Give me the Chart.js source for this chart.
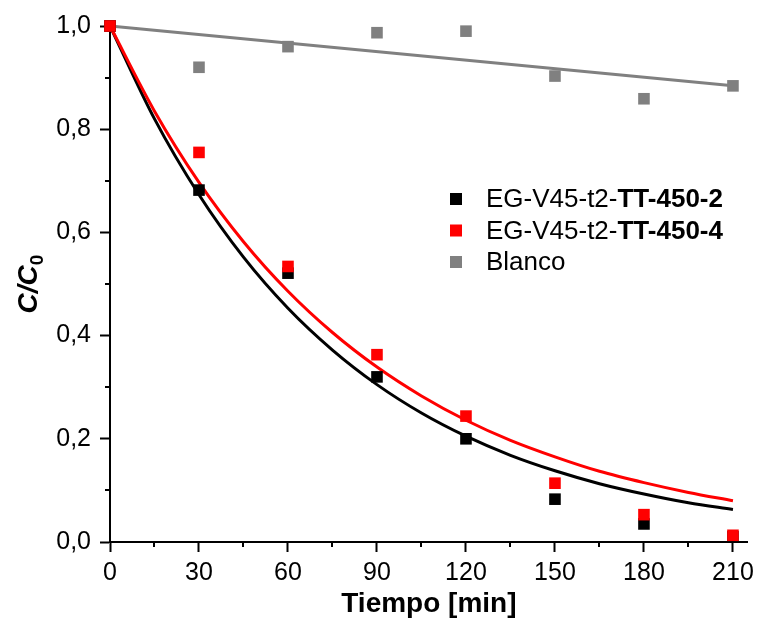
<!DOCTYPE html>
<html>
<head>
<meta charset="utf-8">
<script src="https://cdn.jsdelivr.net/npm/chart.js@4.4.1/dist/chart.umd.min.js"></script>
<style>
  html, body { margin: 0; padding: 0; background: #fff; }
  #wrap { width: 760px; height: 621px; }
</style>
</head>
<body>
<div id="wrap"><canvas id="myChart"></canvas></div>
<script>
// measured points
const tiempo = [0, 30, 60, 90, 120, 150, 180, 210];
const tt4502 = [1.0, 0.682, 0.521, 0.320, 0.200, 0.083, 0.035, 0.010];
const tt4504 = [1.0, 0.755, 0.534, 0.363, 0.244, 0.114, 0.053, 0.013];
const blanco = [1.0, 0.920, 0.960, 0.987, 0.990, 0.903, 0.859, 0.884];

// fit curves
const tiempoFit = [0, 15, 30, 45, 60, 75, 90, 105, 120, 135, 150, 165, 180, 195, 210];
const fit4502 = [1.0, 0.820, 0.673, 0.552, 0.453, 0.372, 0.305, 0.250, 0.205, 0.168, 0.138, 0.113, 0.093, 0.076, 0.063];
const fit4504 = [1.0, 0.835, 0.697, 0.582, 0.486, 0.406, 0.339, 0.283, 0.236, 0.197, 0.165, 0.137, 0.115, 0.096, 0.080];
const tiempoBlancoFit = [0, 210];
const fitBlanco = [1.0, 0.884];

const xTicks = [0, 30, 60, 90, 120, 150, 180, 210];
const yTicks = [0, 0.2, 0.4, 0.6, 0.8, 1.0];

const legendItems = [
    { normal: "EG-V45-t2-", bold: "TT-450-2", color: "#000000" },
    { normal: "EG-V45-t2-", bold: "TT-450-4", color: "#ff0000" },
    { normal: "Blanco", bold: "", color: "#808080" }
];

const FONT = 'Arial, "Liberation Sans", sans-serif';

const toXY = (xs, ys) => xs.map((x, i) => ({ x: x, y: ys[i] }));

const pointSet = (data, color, order) => ({
    data: toXY(tiempo, data),
    pointStyle: 'rect',
    pointRadius: 8.2,
    pointHoverRadius: 8.2,
    backgroundColor: color,
    borderColor: color,
    borderWidth: 0,
    showLine: false,
    clip: false,
    order: order
});

const fitSet = (xs, data, color, order) => ({
    data: toXY(xs, data),
    showLine: true,
    pointRadius: 0,
    borderColor: color,
    borderWidth: 3,
    cubicInterpolationMode: 'monotone',
    fill: false,
    clip: false,
    order: order
});

// minor ticks, custom legend and y title
const extras = {
    id: 'extras',
    afterDraw(chart) {
        const c = chart.ctx;
        const xs = chart.scales.x;
        const ys = chart.scales.y;
        c.save();
        c.strokeStyle = '#000';
        c.lineWidth = 2;
        for (let v = 15; v < 215; v += 30) {
            const px = Math.round(xs.getPixelForValue(v));
            c.beginPath();
            c.moveTo(px, ys.bottom);
            c.lineTo(px, ys.bottom + 5);
            c.stroke();
        }
        for (let v = 0.1; v < 1; v += 0.2) {
            const py = Math.round(ys.getPixelForValue(v));
            c.beginPath();
            c.moveTo(xs.left, py);
            c.lineTo(xs.left - 5, py);
            c.stroke();
        }

        // legend
        c.textBaseline = 'middle';
        c.textAlign = 'left';
        legendItems.forEach((item, i) => {
            const y = 199 + i * 31.5;
            c.fillStyle = item.color;
            c.fillRect(450, y - 6, 12, 12);
            c.fillStyle = '#000';
            c.font = '26px ' + FONT;
            c.fillText(item.normal, 486, y + 1);
            const w = c.measureText(item.normal).width;
            c.font = 'bold 26px ' + FONT;
            c.fillText(item.bold, 486 + w, y + 1);
        });

        // y title C/C0
        c.translate(37, 284);
        c.rotate(-Math.PI / 2);
        c.font = 'italic bold 28px ' + FONT;
        const main = 'C/C';
        const mw = c.measureText(main).width;
        c.font = 'bold 19px ' + FONT;
        const sw = c.measureText('0').width;
        const start = -(mw + sw) / 2;
        c.textBaseline = 'alphabetic';
        c.font = 'italic bold 28px ' + FONT;
        c.fillText(main, start, 0);
        c.font = 'bold 19px ' + FONT;
        c.fillText('0', start + mw, 6);
        c.restore();
    }
};

const ctx = document.getElementById('myChart');

const config = {
    type: 'scatter',
    data: {
        datasets: [
            pointSet(tt4504, '#ff0000', 0),
            pointSet(tt4502, '#000000', 1),
            pointSet(blanco, '#808080', 2),
            fitSet(tiempoFit, fit4504, '#ff0000', 3),
            fitSet(tiempoFit, fit4502, '#000000', 4),
            fitSet(tiempoBlancoFit, fitBlanco, '#808080', 5)
        ]
    },
    options: {
        responsive: true,
        maintainAspectRatio: false,
        animation: false,
        layout: { padding: { top: 26, right: 8, left: 0, bottom: 0 } },
        plugins: {
            legend: { display: false },
            tooltip: { enabled: false }
        },
        scales: {
            x: {
                type: 'linear',
                min: 0,
                max: 215,
                afterBuildTicks: (scale) => {
                    scale.ticks = xTicks.map(v => ({ value: v }));
                },
                afterFit: (scale) => { scale.height = 79; },
                border: { display: true, color: '#000', width: 2 },
                grid: { drawOnChartArea: false, tickLength: 10, tickWidth: 2, tickColor: '#000', color: '#000' },
                ticks: {
                    autoSkip: false,
                    maxRotation: 0,
                    padding: 6,
                    color: '#000',
                    font: { family: FONT, size: 25 }
                },
                title: {
                    display: true,
                    text: 'Tiempo [min]',
                    color: '#000',
                    font: { family: FONT, size: 28, weight: 'bold' },
                    padding: { top: 0, bottom: 0 }
                }
            },
            y: {
                type: 'linear',
                min: 0,
                max: 1,
                afterBuildTicks: (scale) => {
                    scale.ticks = yTicks.map(v => ({ value: v }));
                },
                afterFit: (scale) => { scale.width = 110; },
                border: { display: true, color: '#000', width: 2 },
                grid: { drawOnChartArea: false, tickLength: 10, tickWidth: 2, tickColor: '#000', color: '#000' },
                ticks: {
                    padding: 9,
                    color: '#000',
                    font: { family: FONT, size: 25 },
                    callback: (v) => v.toFixed(1).replace('.', ',')
                }
            }
        }
    },
    plugins: [extras]
};

const graph = new Chart(ctx, config);
</script>
</body>
</html>
